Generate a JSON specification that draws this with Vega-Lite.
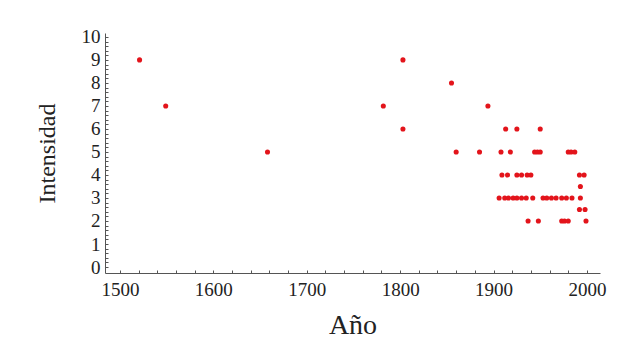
{
  "$schema": "https://vega.github.io/schema/vega-lite/v6.json",
  "autosize": {"type": "none"},
  "width": 495,
  "height": 240,
  "padding": {"left": 105, "top": 33, "right": 20, "bottom": 65},
  "background": "white",
  "config": {
    "view": {"stroke": null},
    "font": "Times New Roman",
    "axis": {"labelFont": "Times New Roman", "titleFont": "Times New Roman", "labelColor": "#222", "titleColor": "#222", "domainColor": "#555", "tickColor": "#555", "grid": false, "titleFontWeight": "normal"}
  },
  "data": {
    "values": [
      {"anio": 1521, "intensidad": 9},
      {"anio": 1549, "intensidad": 7},
      {"anio": 1658, "intensidad": 5},
      {"anio": 1782, "intensidad": 7},
      {"anio": 1803, "intensidad": 9},
      {"anio": 1803, "intensidad": 6},
      {"anio": 1855, "intensidad": 8},
      {"anio": 1860, "intensidad": 5},
      {"anio": 1885, "intensidad": 5},
      {"anio": 1894, "intensidad": 7},
      {"anio": 1913, "intensidad": 6},
      {"anio": 1925, "intensidad": 6},
      {"anio": 1950, "intensidad": 6},
      {"anio": 1908, "intensidad": 5},
      {"anio": 1918, "intensidad": 5},
      {"anio": 1944, "intensidad": 5},
      {"anio": 1947, "intensidad": 5},
      {"anio": 1950, "intensidad": 5},
      {"anio": 1980, "intensidad": 5},
      {"anio": 1983, "intensidad": 5},
      {"anio": 1987, "intensidad": 5},
      {"anio": 1909, "intensidad": 4},
      {"anio": 1915, "intensidad": 4},
      {"anio": 1925, "intensidad": 4},
      {"anio": 1930, "intensidad": 4},
      {"anio": 1936, "intensidad": 4},
      {"anio": 1940, "intensidad": 4},
      {"anio": 1992, "intensidad": 4},
      {"anio": 1997, "intensidad": 4},
      {"anio": 1993, "intensidad": 3.5},
      {"anio": 1906, "intensidad": 3},
      {"anio": 1912, "intensidad": 3},
      {"anio": 1916, "intensidad": 3},
      {"anio": 1921, "intensidad": 3},
      {"anio": 1925, "intensidad": 3},
      {"anio": 1930, "intensidad": 3},
      {"anio": 1935, "intensidad": 3},
      {"anio": 1942, "intensidad": 3},
      {"anio": 1953, "intensidad": 3},
      {"anio": 1957, "intensidad": 3},
      {"anio": 1962, "intensidad": 3},
      {"anio": 1967, "intensidad": 3},
      {"anio": 1973, "intensidad": 3},
      {"anio": 1978, "intensidad": 3},
      {"anio": 1984, "intensidad": 3},
      {"anio": 1993, "intensidad": 3},
      {"anio": 1992, "intensidad": 2.5},
      {"anio": 1998, "intensidad": 2.5},
      {"anio": 1937, "intensidad": 2},
      {"anio": 1948, "intensidad": 2},
      {"anio": 1973, "intensidad": 2},
      {"anio": 1976, "intensidad": 2},
      {"anio": 1980, "intensidad": 2},
      {"anio": 1999, "intensidad": 2}
    ]
  },
  "mark": {"type": "circle", "color": "#e3141b", "opacity": 1, "size": 26},
  "encoding": {
    "x": {
      "field": "anio", "type": "quantitative", "title": "Año",
      "scale": {"domain": [1484, 2014], "nice": false, "zero": false},
      "axis": {
        "values": [1500, 1520, 1540, 1560, 1580, 1600, 1620, 1640, 1660, 1680, 1700, 1720, 1740, 1760, 1780, 1800, 1820, 1840, 1860, 1880, 1900, 1920, 1940, 1960, 1980, 2000],
        "labelExpr": "datum.value % 100 === 0 ? datum.label : ''",
        "format": "d",
        "tickSize": -3, "labelPadding": 10, "labelFontSize": 19, "titleFontSize": 28, "titlePadding": 12, "labelFlush": false, "labelOverlap": false
      }
    },
    "y": {
      "field": "intensidad", "type": "quantitative", "title": "Intensidad",
      "scale": {"domain": [-0.26, 10.17], "nice": false, "zero": false},
      "axis": {
        "values": [0, 0.2, 0.4, 0.6, 0.8, 1, 1.2, 1.4, 1.6, 1.8, 2, 2.2, 2.4, 2.6, 2.8, 3, 3.2, 3.4, 3.6, 3.8, 4, 4.2, 4.4, 4.6, 4.8, 5, 5.2, 5.4, 5.6, 5.8, 6, 6.2, 6.4, 6.6, 6.8, 7, 7.2, 7.4, 7.6, 7.8, 8, 8.2, 8.4, 8.6, 8.8, 9, 9.2, 9.4, 9.6, 9.8, 10],
        "labelExpr": "abs(datum.value - round(datum.value)) < 0.001 ? format(round(datum.value), 'd') : ''",
        "tickSize": -3, "labelPadding": 8, "labelFontSize": 19, "titleFontSize": 24, "titlePadding": 22, "labelOverlap": false, "labelFlush": false
      }
    }
  }
}
